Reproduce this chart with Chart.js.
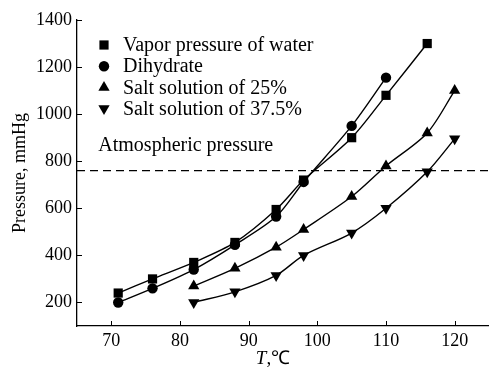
<!DOCTYPE html>
<html>
<head>
<meta charset="utf-8">
<script src="https://cdn.jsdelivr.net/npm/chart.js@4/dist/chart.umd.min.js"></script>
<style>
  html, body { margin: 0; padding: 0; background: #fff; }
  #wrap { width: 489px; height: 367px; position: relative; }
</style>
</head>
<body>
<div id="wrap"><canvas id="grafico"></canvas></div>
<script>
// ===== DADOS =====
const tempAgua = [71, 76, 82, 88, 94, 98, 105, 110, 116]
const pressaoAgua = [240, 300, 370, 455, 595, 720, 900, 1080, 1300]

const tempDihidrato = [71, 76, 82, 88, 94, 98, 105, 110]
const pressaoDihidrato = [200, 260, 340, 445, 565, 712, 950, 1155]

const tempSal = [82, 88, 94, 98, 105, 110, 116, 120]
const pressaoSal25 = [270, 345, 435, 510, 650, 780, 920, 1100]
const pressaoSal375 = [200, 245, 315, 400, 495, 600, 755, 895]

const pressaoAtmosferica = 760

const legendas = [
    "Vapor pressure of water",
    "Dihydrate",
    "Salt solution of 25%",
    "Salt solution of 37.5%"
]
const ticksX = [70, 80, 90, 100, 110, 120]
const ticksY = [200, 400, 600, 800, 1000, 1200, 1400]

const FONTE = "'Liberation Serif', 'Times New Roman', serif"

// monta pares {x, y}
function pares(xs, ys) {
    return xs.map((x, i) => ({ x: x, y: ys[i] }))
}

function serie(label, xs, ys, estilo, raio, rotacao) {
    return {
        label: label,
        data: pares(xs, ys),
        borderColor: "#000",
        backgroundColor: "#000",
        borderWidth: 1.4,
        pointStyle: estilo,
        pointRadius: raio,
        pointRotation: rotacao || 0,
        pointBackgroundColor: "#000",
        pointBorderColor: "#000",
        pointBorderWidth: 0,
        tension: 0.3,
        fill: false
    }
}

// ===== PLUGIN: ticks para dentro, legenda interna, textos =====
const extras = {
    id: "extras",
    afterDraw(chart) {
        const ctx = chart.ctx
        const x = chart.scales.x
        const y = chart.scales.y
        const area = chart.chartArea
        ctx.save()
        ctx.strokeStyle = "#000"
        ctx.lineWidth = 1
        // ticks internos
        x.ticks.forEach((t, i) => {
            const px = Math.round(x.getPixelForTick(i)) + 0.5
            ctx.beginPath()
            ctx.moveTo(px, area.bottom)
            ctx.lineTo(px, area.bottom - 5)
            ctx.stroke()
        })
        y.ticks.forEach((t, i) => {
            const py = Math.round(y.getPixelForTick(i)) + 0.5
            ctx.beginPath()
            ctx.moveTo(area.left, py)
            ctx.lineTo(area.left + 5, py)
            ctx.stroke()
        })

        // legenda dentro da área
        ctx.fillStyle = "#000"
        ctx.font = "20px " + FONTE
        ctx.textBaseline = "middle"
        ctx.textAlign = "left"
        chart.data.datasets.slice(0, 4).forEach((ds, i) => {
            const ly = 45 + i * 21.2
            Chart.helpers.drawPoint(ctx, {
                pointStyle: ds.pointStyle,
                rotation: ds.pointRotation,
                radius: ds.pointRadius,
                borderWidth: 0
            }, 104, ly)
            ctx.fillStyle = "#000"
            ctx.fillText(ds.label, 123, ly + 1)
        })

        // rótulo da pressão atmosférica
        ctx.fillText("Atmospheric pressure", x.getPixelForValue(68.1), y.getPixelForValue(865))

        // título do eixo X: "T,℃" com T em itálico
        const cx = 273
        const ty = 359
        ctx.font = "italic 19px " + FONTE
        const wT = ctx.measureText("T").width
        ctx.font = "19px " + FONTE
        const wR = ctx.measureText(",℃").width
        const x0 = cx - (wT + wR) / 2
        ctx.font = "italic 19px " + FONTE
        ctx.fillText("T", x0, ty)
        ctx.font = "19px " + FONTE
        ctx.fillText(",℃", x0 + wT, ty)
        ctx.restore()
    }
}

const conjuntos = [
    serie(legendas[0], tempAgua, pressaoAgua, "rect", 6.5),
    serie(legendas[1], tempDihidrato, pressaoDihidrato, "circle", 5.2),
    serie(legendas[2], tempSal, pressaoSal25, "triangle", 6.5),
    serie(legendas[3], tempSal, pressaoSal375, "triangle", 6.5, 180),
    {
        label: "atm",
        data: [{ x: 65, y: pressaoAtmosferica }, { x: 125, y: pressaoAtmosferica }],
        borderColor: "#000",
        borderWidth: 1.3,
        borderDash: [8, 5],
        pointRadius: 0,
        fill: false
    }
]

new Chart(document.getElementById("grafico"), {
    type: "line",
    data: { datasets: conjuntos },
    options: {
        responsive: true,
        maintainAspectRatio: false,
        animation: false,
        devicePixelRatio: 1,
        layout: { autoPadding: false, padding: { top: 20, right: 0, left: 0, bottom: 0 } },
        plugins: {
            legend: { display: false },
            tooltip: { enabled: false }
        },
        scales: {
            x: {
                type: "linear",
                min: 65,
                max: 125,
                afterBuildTicks: (s) => { s.ticks = ticksX.map(v => ({ value: v })) },
                afterFit: (s) => { s.height = 41 },
                grid: { display: false, drawTicks: false },
                border: { display: true, color: "#000", width: 1.3 },
                ticks: {
                    color: "#000",
                    padding: 4,
                    maxRotation: 0,
                    callback: (v) => String(v),
                    font: { family: FONTE, size: 18 }
                }
            },
            y: {
                type: "linear",
                min: 100,
                max: 1400,
                afterBuildTicks: (s) => { s.ticks = ticksY.map(v => ({ value: v })) },
                afterFit: (s) => { s.width = 77 },
                grid: { display: false, drawTicks: false },
                border: { display: true, color: "#000", width: 1.3 },
                title: {
                    display: true,
                    text: "Pressure, mmHg",
                    color: "#000",
                    padding: { top: 9, bottom: 0 },
                    font: { family: FONTE, size: 18 }
                },
                ticks: {
                    color: "#000",
                    padding: 5,
                    callback: (v) => String(v),
                    font: { family: FONTE, size: 18 }
                }
            }
        }
    },
    plugins: [extras]
})
</script>
</body>
</html>
